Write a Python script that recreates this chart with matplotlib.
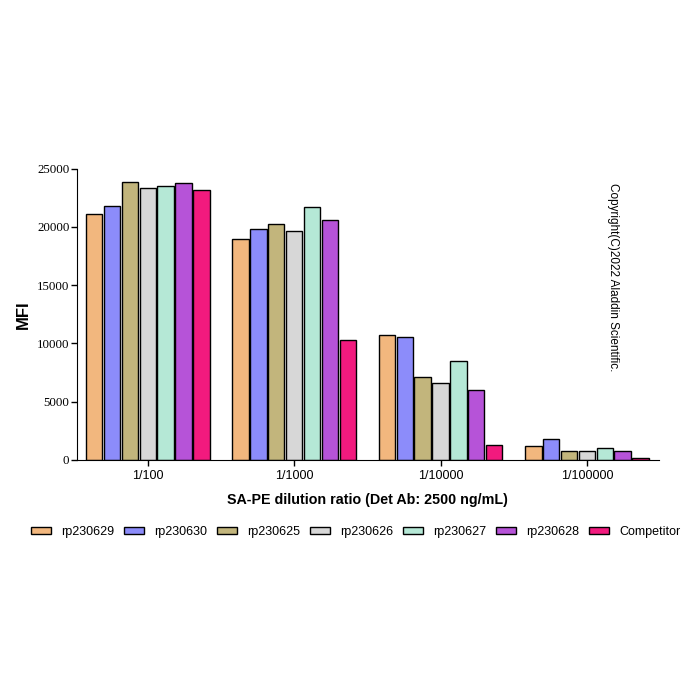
import matplotlib.pyplot as plt
import numpy as np

groups = ['1/100', '1/1000', '1/10000', '1/100000']
series = ['rp230629', 'rp230630', 'rp230625', 'rp230626', 'rp230627', 'rp230628', 'Competitor']
colors = ['#F2B77E', '#8C8CFA', '#C2B57C', '#D7D7D7', '#B5E8D6', '#B653D8', '#F21A7E']

rp230629 = [21100, 18940, 10710, 1230]
rp230630 = [21790, 19830, 10560, 1780]
rp230625 = [23850, 20210, 7150, 770]
rp230626 = [23340, 19690, 6600, 770]
rp230627 = [23510, 21700, 8500, 1060]
rp230628 = [23740, 20610, 6030, 750]
competitor = [23190, 10280, 1320, 200]
values = [rp230629, rp230630, rp230625, rp230626, rp230627, rp230628, competitor]

fig = plt.figure(figsize=(7, 7), dpi=100)
ax = fig.add_axes([0.11, 0.343, 0.831, 0.416])

x = np.arange(len(groups))
w = 0.122
for i, (name, vals) in enumerate(zip(series, values)):
    ax.bar(x + (i - 3) * w, vals, width=w * 0.92, color=colors[i],
           edgecolor='black', linewidth=1.0, label=name)

ax.set_xlim(-0.483, 3.49)
ax.set_ylim(0, 25000)
ax.set_yticks([0, 5000, 10000, 15000, 20000, 25000])
ax.set_xticks(x)
ax.set_xticklabels(groups, family='Liberation Sans', fontsize=9)
for t in ax.get_yticklabels():
    t.set_family('Liberation Serif')
    t.set_fontsize(9.3)
ax.spines['top'].set_visible(False)
ax.spines['right'].set_visible(False)
ax.tick_params(axis='y', direction='out', length=4, width=1, pad=1.5)
ax.tick_params(axis='x', direction='out', length=4, width=1, pad=3)
ax.set_ylabel('MFI', family='Liberation Sans', fontweight='bold', fontsize=12, labelpad=4)
ax.set_xlabel('SA-PE dilution ratio (Det Ab: 2500 ng/mL)', family='Liberation Sans',
              fontweight='bold', fontsize=10.3, labelpad=8)

ax.text(0.921, 0.95, 'Copyright(C)2022 Aladdin Scientific.', transform=ax.transAxes,
        rotation=-90, ha='center', va='top', family='Liberation Sans', fontsize=8.5)

fig.legend(loc='center', bbox_to_anchor=(0.508, 0.24), ncol=7, frameon=False,
           prop={'family': 'Liberation Sans', 'size': 9}, handlelength=1.6,
           handleheight=0.5, columnspacing=0.8, handletextpad=0.8)

plt.savefig('out.png', dpi=100)
